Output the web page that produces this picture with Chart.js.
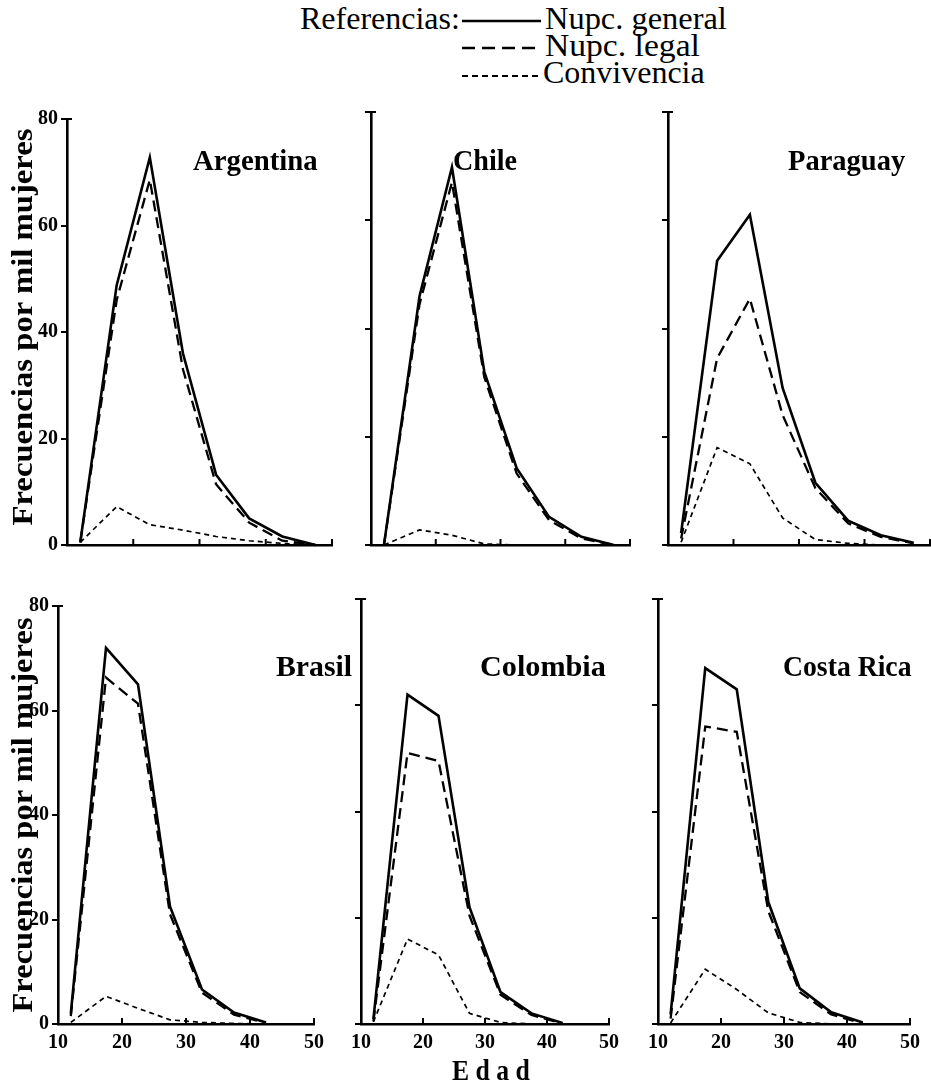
<!DOCTYPE html>
<html><head><meta charset="utf-8">
<script src="https://cdn.jsdelivr.net/npm/chart.js@4.4.1/dist/chart.umd.min.js"></script>
<style>
html,body{margin:0;padding:0;background:#fff;}
#wrap{position:relative;width:931px;height:1087px;overflow:hidden;background:#fff;}
canvas{position:absolute;}
.txt{position:absolute;white-space:nowrap;font-family:"Liberation Serif","Times New Roman",serif;color:#000;line-height:1;transform-origin:0 0;}
#legendLines{position:absolute;left:0;top:0;}
</style></head><body><div id="wrap">
<svg id="legendLines" width="931" height="100"></svg>
</div>
<script>
// ---------- DATA ----------
const ages = [12, 17.5, 22.5, 27.5, 32.5, 37.5, 42.5, 47.5];
const xTickValues = [10, 20, 30, 40, 50];
const yTickValues = [0, 20, 40, 60, 80];
const seriesNames = ['Nupc. general', 'Nupc. legal', 'Convivencia'];
const countries = ['Argentina', 'Chile', 'Paraguay', 'Brasil', 'Colombia', 'Costa Rica'];

const argentinaGeneral = [0.5, 48.8, 72.8, 36, 13.2, 5.0, 1.6, 0];
const argentinaLegal   = [0.5, 46, 68.6, 33, 11.4, 4.2, 0.8, 0];
const argentinaConv    = [0.5, 7.2, 3.8, 2.8, 1.6, 0.8, 0.3, 0];

const chileGeneral = [0, 46, 69.8, 32, 14.2, 5.2, 1.5, 0];
const chileLegal   = [0, 44.5, 67, 31, 13.2, 4.6, 1.2, 0];
const chileConv    = [0, 2.8, 1.8, 0.2, 0, 0, 0, 0];

const paraguayGeneral = [2.2, 52.5, 61, 29, 11.5, 4.5, 1.8, 0.4];
const paraguayLegal   = [1.2, 34.5, 45.5, 24, 10.5, 4.0, 1.5, 0.3];
const paraguayConv    = [0.5, 18, 15, 5, 1, 0.3, 0, 0];

const brasilGeneral = [2, 72, 65, 22.5, 6.6, 2.2, 0.3, null];
const brasilLegal   = [1.5, 66.3, 61.3, 21, 6, 1.8, 0.2, null];
const brasilConv    = [0.3, 5.3, 3, 0.8, 0.3, 0.1, 0, null];

const colombiaGeneral = [0.9, 62, 58, 22, 6, 2, 0.2, null];
const colombiaLegal   = [0.5, 51, 49.5, 20.4, 5.5, 1.7, 0.1, null];
const colombiaConv    = [0.4, 16, 13, 2, 0.3, 0, 0, null];

const costaRicaGeneral = [1.8, 67, 63, 23, 6.7, 2.2, 0.3, null];
const costaRicaLegal   = [1, 56, 55, 21.3, 6, 1.8, 0.1, null];
const costaRicaConv    = [0.2, 10.3, 6.5, 2.1, 0.3, 0, 0, null];

// ---------- LAYOUT ----------
const FONT = '"Liberation Serif","Times New Roman",serif';
const wrap = document.getElementById('wrap');

const panelValues = [
  [argentinaGeneral, argentinaLegal, argentinaConv],
  [chileGeneral, chileLegal, chileConv],
  [paraguayGeneral, paraguayLegal, paraguayConv],
  [brasilGeneral, brasilLegal, brasilConv],
  [colombiaGeneral, colombiaLegal, colombiaConv],
  [costaRicaGeneral, costaRicaLegal, costaRicaConv]
];
// chart-area rectangles [left, top, right, bottom]
const areas = [
  [67, 112, 332, 545], [371, 112, 630, 545], [668, 112, 930, 545],
  [58, 599, 323, 1024], [361, 599, 618, 1024], [658, 599, 919, 1024]
];
const titlePos = [ // left, baseline, width
  [193, 170, 125], [453, 170, 64], [788, 170, 117],
  [276, 676, 76], [480, 676, 126], [783, 676, 129]
];
const styles = [
  {w: 2.6, dash: []},
  {w: 2.3, dash: [11, 6]},
  {w: 1.7, dash: [5, 4]}
];

const YW = 50, PT = 8, PR = 8, XH = 36;

const inTicks = {
  id: 'inTicks',
  afterDraw(chart) {
    const {ctx, scales: {x, y}} = chart;
    const y0 = y.getPixelForValue(0);
    ctx.save();
    ctx.strokeStyle = '#000';
    ctx.lineWidth = 2;
    xTickValues.filter(v => v > 10).forEach(v => {
      const px = x.getPixelForValue(v);
      ctx.beginPath(); ctx.moveTo(px, y0); ctx.lineTo(px, y0 - 6); ctx.stroke();
    });
    // short inner tick at the top of the y axis
    const x0 = x.getPixelForValue(10), yt = y.getPixelForValue(80);
    ctx.beginPath(); ctx.moveTo(x0, yt); ctx.lineTo(x0 + 5, yt); ctx.stroke();
    ctx.restore();
  }
};

panelValues.forEach((vals, i) => {
  const [L, T, R, B] = areas[i];
  const cv = document.createElement('canvas');
  const w = R - L + YW + PR, h = B - T + PT + XH;
  cv.width = w; cv.height = h;
  cv.style.left = (L - YW) + 'px'; cv.style.top = (T - PT) + 'px';
  cv.style.width = w + 'px'; cv.style.height = h + 'px';
  wrap.appendChild(cv);
  const showY = (i % 3 === 0);
  const showX = (i >= 3);
  new Chart(cv.getContext('2d'), {
    type: 'line',
    data: {
      datasets: vals.map((arr, k) => ({
        label: seriesNames[k],
        data: ages.map((a, j) => ({x: a, y: arr[j]})),
        borderColor: '#000',
        borderWidth: styles[k].w,
        borderDash: styles[k].dash,
        borderJoinStyle: 'miter',
        pointRadius: 0,
        tension: 0,
        fill: false,
        clip: false,
        spanGaps: false
      }))
    },
    options: {
      responsive: false, animation: false, devicePixelRatio: 1,
      layout: {padding: {top: PT, right: PR, left: 0, bottom: 0}},
      plugins: {legend: {display: false}, tooltip: {enabled: false}, title: {display: false}},
      scales: {
        x: {
          type: 'linear', min: 10, max: 50,
          afterBuildTicks: s => { s.ticks = xTickValues.map(v => ({value: v})); },
          afterFit: s => { s.height = XH; },
          grid: {display: false, drawTicks: false},
          border: {display: true, color: '#000', width: 2.6},
          ticks: {display: showX, padding: 7, color: '#000', font: {family: FONT, size: 20, weight: 'bold'}}
        },
        y: {
          type: 'linear', min: 0, max: 80,
          afterBuildTicks: s => { s.ticks = yTickValues.map(v => ({value: v})); },
          afterFit: s => { s.width = YW; },
          grid: {display: true, drawOnChartArea: false, drawTicks: true, tickLength: 6, color: '#000', lineWidth: 2},
          border: {display: true, color: '#000', width: 2.6},
          ticks: {display: showY, padding: 3, color: '#000', font: {family: FONT, size: 20, weight: 'bold'}}
        }
      }
    },
    plugins: [inTicks]
  });
});

// ---------- TEXT ----------
function addText(str, left, baseline, size, bold, width, extra) {
  const d = document.createElement('div');
  d.className = 'txt';
  d.textContent = str;
  d.style.fontSize = size + 'px';
  d.style.fontWeight = bold ? 'bold' : 'normal';
  if (extra) Object.assign(d.style, extra);
  d.style.left = left + 'px';
  d.style.top = (baseline - 0.8375 * size) + 'px';
  wrap.appendChild(d);
  if (width) {
    const s = width / d.offsetWidth;
    d.style.transform = 'scaleX(' + s + ')';
  }
  return d;
}

countries.forEach((c, i) => {
  const [l, b, w] = titlePos[i];
  addText(c, l, b, 29, true, w);
});

// legend
addText('Referencias:', 300, 29, 31, false, 160);
addText(seriesNames[0], 545, 29, 31, false, 182);
addText(seriesNames[1], 545, 56, 31, false, 155);
addText(seriesNames[2], 543, 83, 31, false, 162);
const svg = document.getElementById('legendLines');
const legendRows = [[21, 2.4, ''], [48, 2.4, '13 7'], [76, 1.9, '6 4']];
legendRows.forEach(([y, w, dash]) => {
  const ln = document.createElementNS('http://www.w3.org/2000/svg', 'line');
  ln.setAttribute('x1', 462); ln.setAttribute('x2', 541);
  ln.setAttribute('y1', y); ln.setAttribute('y2', y);
  ln.setAttribute('stroke', '#000'); ln.setAttribute('stroke-width', w);
  if (dash) ln.setAttribute('stroke-dasharray', dash);
  svg.appendChild(ln);
});

// axis titles
function addVertical(str, cx, cy, size, len) {
  const d = document.createElement('div');
  d.className = 'txt';
  d.textContent = str;
  d.style.fontSize = size + 'px';
  d.style.fontWeight = 'bold';
  wrap.appendChild(d);
  const w = d.offsetWidth, h = d.offsetHeight;
  d.style.left = (cx - w / 2) + 'px';
  d.style.top = (cy - h / 2) + 'px';
  d.style.transformOrigin = '50% 50%';
  d.style.transform = 'rotate(-90deg) scaleX(' + (len / w) + ')';
}
addVertical('Frecuencias por mil mujeres', 22, 327, 30, 397);
addVertical('Frecuencias por mil mujeres', 22, 815, 30, 395);

addText('E d a d', 452, 1080, 30, true, 78);
</script>
</body></html>
